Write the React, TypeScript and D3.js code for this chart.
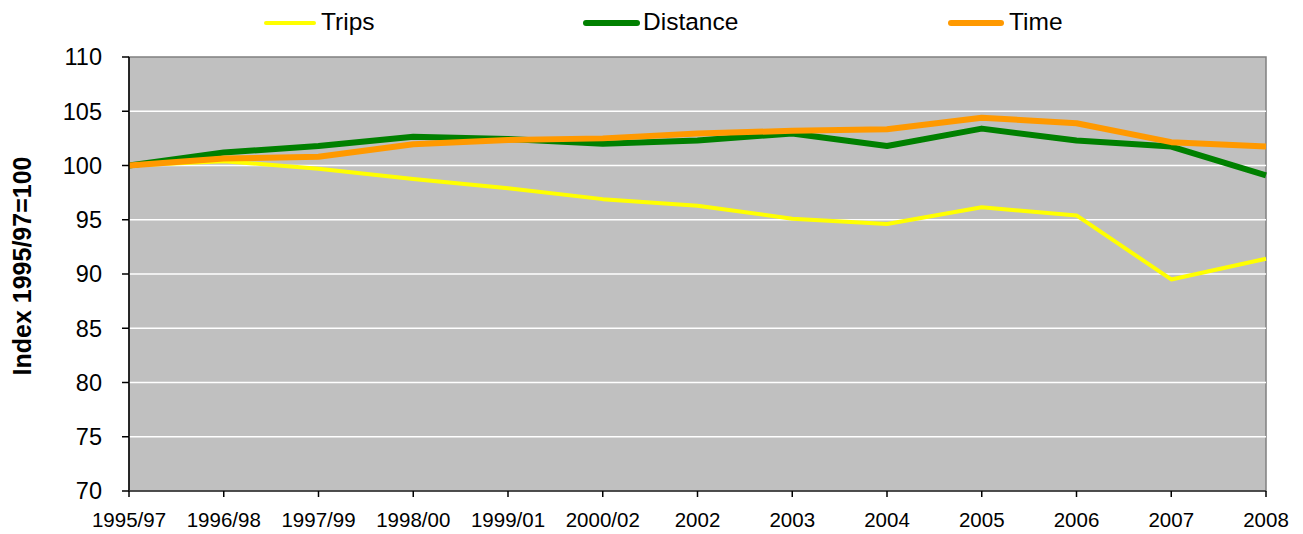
import React from "react";
import * as d3 from "d3";

const categories = ["1995/97","1996/98","1997/99","1998/00","1999/01","2000/02","2002","2003","2004","2005","2006","2007","2008"];
const trips = [100, 100.4, 99.7, 98.75, 97.9, 96.9, 96.3, 95.1, 94.6, 96.15, 95.4, 89.5, 91.4];
const distance = [100, 101.2, 101.8, 102.65, 102.45, 102.0, 102.3, 102.95, 101.8, 103.4, 102.3, 101.75, 99.1];
const time = [100, 100.65, 100.8, 101.95, 102.35, 102.5, 102.95, 103.2, 103.35, 104.4, 103.9, 102.15, 101.75];
const yTicks = [70, 75, 80, 85, 90, 95, 100, 105, 110];

const series = [
  { name: "Trips", values: trips, color: "#FFFF00", width: 4 },
  { name: "Distance", values: distance, color: "#008000", width: 6 },
  { name: "Time", values: time, color: "#FF9900", width: 6 },
];

const W = 1303, H = 534;
const L = 129, R = 1266, T = 57, B = 491;
const FONT = "'Liberation Sans', Arial, sans-serif";

export default function App() {
  const x = d3.scalePoint<string>().domain(categories).range([L, R]);
  const y = d3.scaleLinear().domain([70, 110]).range([B, T]);
  const line = d3.line<number>().x((_, i) => x(categories[i])!).y(d => y(d));
  const legend = [
    { x1: 266, x2: 314, tx: 321 },
    { x1: 586, x2: 637, tx: 643 },
    { x1: 951, x2: 1001, tx: 1009 },
  ];
  return (
    <svg width={W} height={H} style={{ position: "absolute", left: 0, top: 0 }} fontFamily={FONT}>
      <rect x={0} y={0} width={W} height={H} fill="#fff" />
      <rect x={L} y={T} width={R - L} height={B - T} fill="#C0C0C0" stroke="#808080" strokeWidth={1.5} />
      {yTicks.filter(t => t > 70 && t < 110).map(t => (
        <line key={t} x1={L} x2={R} y1={y(t)} y2={y(t)} stroke="#fff" strokeWidth={1.5} />
      ))}
      {series.map(s => (
        <path key={s.name} d={line(s.values)!} fill="none" stroke={s.color} strokeWidth={s.width} strokeLinejoin="round" />
      ))}
      <line x1={L} x2={L} y1={T} y2={B} stroke="#000" strokeWidth={1.5} />
      <line x1={L} x2={R} y1={B} y2={B} stroke="#333" strokeWidth={1.5} />
      {yTicks.map(t => (
        <g key={t}>
          <line x1={L - 7} x2={L} y1={y(t)} y2={y(t)} stroke="#000" strokeWidth={1.5} />
          <text x={L - 27} y={y(t)} dy="0.36em" textAnchor="end" fontSize={23.5} fill="#000">{t}</text>
        </g>
      ))}
      {categories.map(c => (
        <g key={c}>
          <line x1={x(c)!} x2={x(c)!} y1={B} y2={B + 6} stroke="#000" strokeWidth={1.5} />
          <text x={x(c)!} y={B + 36} textAnchor="middle" fontSize={20.5} fill="#000">{c}</text>
        </g>
      ))}
      <text transform={`translate(31, 266) rotate(-90)`} textAnchor="middle" fontSize={25} fontWeight="bold" fill="#000">Index 1995/97=100</text>
      {series.map((s, i) => (
        <g key={s.name}>
          <line x1={legend[i].x1} x2={legend[i].x2} y1={23} y2={23} stroke={s.color} strokeWidth={s.width} strokeLinecap="round" />
          <text x={legend[i].tx} y={30} fontSize={24.5} fill="#000">{s.name}</text>
        </g>
      ))}
    </svg>
  );
}
